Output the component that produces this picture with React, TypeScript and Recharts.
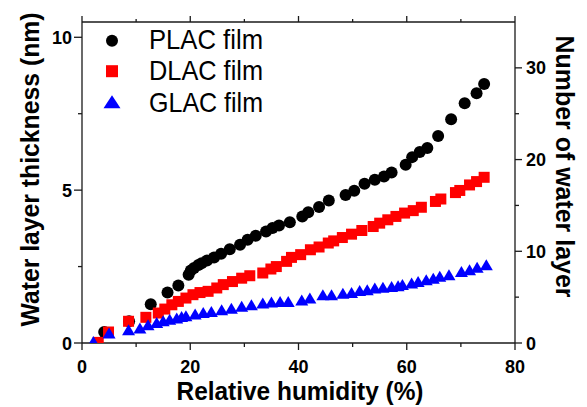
import { ScatterChart, Scatter, XAxis, YAxis, Legend, Label } from 'recharts';

// PLAC film (black circles)
const placRh = [4.1, 8.7, 12.7, 15.8, 17.8, 19.7, 20.1, 20.7, 21.5, 22.1, 23.1, 24.4, 25.7, 27.3, 29.2, 30.6, 32.1, 34.0, 35.2, 36.4, 38.4, 40.7, 41.8, 43.8, 45.6, 48.7, 50.3, 52.2, 54.1, 55.8, 57.2, 59.8, 61.0, 62.4, 63.8, 65.8, 68.2, 70.7, 72.9, 74.3];
const placThickness = [0.36, 0.71, 1.27, 1.65, 1.88, 2.23, 2.37, 2.45, 2.55, 2.61, 2.7, 2.8, 2.92, 3.07, 3.21, 3.38, 3.51, 3.65, 3.76, 3.84, 3.95, 4.14, 4.28, 4.45, 4.66, 4.84, 4.98, 5.21, 5.34, 5.45, 5.58, 5.83, 6.08, 6.25, 6.38, 6.77, 7.32, 7.84, 8.17, 8.47];

// DLAC film (red squares)
const dlacRh = [3.0, 4.9, 8.6, 11.8, 14.1, 15.3, 16.6, 17.8, 19.2, 20.5, 21.8, 23.3, 24.9, 26.1, 27.8, 29.5, 31.0, 33.4, 34.9, 35.9, 37.8, 38.7, 40.4, 42.2, 43.8, 45.5, 46.5, 48.1, 49.8, 51.7, 53.8, 55.0, 56.5, 58.0, 59.6, 61.2, 62.7, 65.3, 66.3, 69.0, 69.8, 71.6, 72.9, 74.3];
const dlacThickness = [0.02, 0.36, 0.71, 0.84, 0.98, 1.11, 1.25, 1.36, 1.47, 1.58, 1.65, 1.69, 1.8, 1.91, 2.01, 2.12, 2.2, 2.29, 2.42, 2.5, 2.67, 2.8, 2.89, 3.05, 3.14, 3.27, 3.34, 3.45, 3.56, 3.68, 3.81, 3.92, 4.03, 4.14, 4.25, 4.33, 4.44, 4.63, 4.71, 4.92, 4.99, 5.17, 5.28, 5.42];

// GLAC film (blue triangles)
const glacRh = [2.1, 5.0, 8.6, 10.7, 12.2, 13.8, 15.0, 16.2, 17.5, 18.4, 19.2, 20.9, 22.4, 23.9, 25.8, 27.6, 29.5, 31.3, 33.4, 35.0, 36.6, 38.1, 40.6, 42.1, 44.5, 46.1, 48.2, 49.8, 51.3, 52.7, 54.1, 55.6, 57.2, 58.4, 59.2, 60.9, 62.1, 63.6, 64.9, 66.1, 67.8, 70.1, 71.6, 73.0, 74.7];
const glacThickness = [0.05, 0.33, 0.43, 0.49, 0.6, 0.67, 0.73, 0.78, 0.82, 0.87, 0.89, 0.95, 1.0, 1.03, 1.09, 1.14, 1.2, 1.25, 1.31, 1.34, 1.36, 1.36, 1.41, 1.47, 1.58, 1.58, 1.63, 1.65, 1.72, 1.74, 1.8, 1.82, 1.85, 1.87, 1.91, 1.96, 2.01, 2.07, 2.12, 2.18, 2.23, 2.34, 2.4, 2.48, 2.56];

const seriesNames = ['PLAC film', 'DLAC film', 'GLAC film'];
const xTicks = [0, 10, 20, 30, 40, 50, 60, 70, 80];
const leftTicks = [0, 2.5, 5, 7.5, 10];
const rightTicks = [0, 5, 10, 15, 20, 25, 30];

const toPoints = (xs: number[], ys: number[]) => xs.map((x, i) => ({ x, y: ys[i] }));

const FONT = '"Liberation Sans", Arial, sans-serif';
const AXIS = '#1a1a1a';

function Circle({ cx = 0, cy = 0, r = 6 }: { cx?: number; cy?: number; r?: number }) {
  return <circle cx={cx} cy={cy} r={r} fill="#000000" />;
}

function Square({ cx = 0, cy = 0, s = 11 }: { cx?: number; cy?: number; s?: number }) {
  return <rect x={cx - s / 2} y={cy - s / 2} width={s} height={s} fill="#ff0000" />;
}

function Triangle({ cx = 0, cy = 0, w = 13, h = 11 }: { cx?: number; cy?: number; w?: number; h?: number }) {
  const pts = `${cx - w / 2},${cy + h / 2} ${cx + w / 2},${cy + h / 2} ${cx},${cy - h / 2}`;
  return <polygon points={pts} fill="#0000ff" />;
}

function BottomTick(props: any) {
  const { x, y, payload } = props;
  const major = payload.value % 20 === 0;
  return (
    <g>
      <line x1={x} y1={y} x2={x} y2={y + (major ? 7 : 4)} stroke={AXIS} strokeWidth={1.3} />
      {major && (
        <text x={x} y={y + 30} textAnchor="middle" fontFamily={FONT} fontWeight="bold" fontSize={18} fill="#000">
          {payload.value}
        </text>
      )}
    </g>
  );
}

function TopTick(props: any) {
  const { x, y, payload } = props;
  const major = payload.value % 20 === 0;
  return <line x1={x} y1={y} x2={x} y2={y - (major ? 6 : 3)} stroke={AXIS} strokeWidth={1.3} />;
}

function LeftTick(props: any) {
  const { x, y, payload } = props;
  const major = payload.value % 5 === 0;
  return (
    <g>
      <line x1={x} y1={y} x2={x - (major ? 8 : 4)} y2={y} stroke={AXIS} strokeWidth={1.3} />
      {major && (
        <text x={x - 10} y={y + 6.5} textAnchor="end" fontFamily={FONT} fontWeight="bold" fontSize={18} fill="#000">
          {payload.value}
        </text>
      )}
    </g>
  );
}

function RightTick(props: any) {
  const { x, y, payload } = props;
  const major = payload.value % 10 === 0;
  return (
    <g>
      <line x1={x} y1={y} x2={x + (major ? 7 : 4)} y2={y} stroke={AXIS} strokeWidth={1.3} />
      {major && (
        <text x={x + 11} y={y + 6.5} textAnchor="start" fontFamily={FONT} fontWeight="bold" fontSize={18} fill="#000">
          {payload.value}
        </text>
      )}
    </g>
  );
}

const legendMarkers: Record<string, (cx: number, cy: number) => JSX.Element> = {
  'PLAC film': (cx, cy) => <Circle cx={cx} cy={cy} r={6} />,
  'DLAC film': (cx, cy) => <Square cx={cx} cy={cy} s={12} />,
  'GLAC film': (cx, cy) => <Triangle cx={cx} cy={cy} w={17} h={13} />,
};

function LegendBox() {
  return (
    <svg width={220} height={100}>
      {seriesNames.map((name, i) => {
        const cy = 18.7 + i * 30.5;
        return (
          <g key={name}>
            {legendMarkers[name](30, cy)}
            <text
              x={67}
              y={26.5 + i * 31.7}
              fontFamily={FONT}
              fontSize={27.5}
              textLength={114}
              lengthAdjust="spacingAndGlyphs"
              fill="#000"
            >
              {name}
            </text>
          </g>
        );
      })}
    </svg>
  );
}

const titleStyle = { fontFamily: FONT, fontWeight: 'bold' as const, fill: '#000' };

export default function App() {
  return (
    <div style={{ position: 'absolute', left: 0, top: 0, background: '#fff' }}>
      <ScatterChart width={587} height={407} margin={{ top: 0, right: 0, bottom: 0, left: 0 }}>
        <XAxis
          xAxisId="top"
          orientation="top"
          type="number"
          dataKey="x"
          domain={[0, 80]}
          ticks={xTicks}
          interval={0}
          height={22}
          allowDataOverflow
          tickSize={0}
          tickMargin={0}
          tickLine={false}
          tick={<TopTick />}
          axisLine={{ stroke: AXIS, strokeWidth: 1.3 }}
        />
        <XAxis
          type="number"
          dataKey="x"
          domain={[0, 80]}
          ticks={xTicks}
          interval={0}
          height={64}
          allowDataOverflow
          tickSize={0}
          tickMargin={0}
          tickLine={false}
          tick={<BottomTick />}
          axisLine={{ stroke: AXIS, strokeWidth: 1.3 }}
        >
          <Label
            content={(p: any) => {
              const vb = p.viewBox || { x: 82, y: 343, width: 433 };
              return (
                <text
                  x={vb.x + vb.width / 2 + 1.5}
                  y={vb.y + 57}
                  textAnchor="middle"
                  fontSize={25.5}
                  textLength={247}
                  lengthAdjust="spacingAndGlyphs"
                  {...titleStyle}
                >
                  Relative humidity (%)
                </text>
              );
            }}
          />
        </XAxis>
        <YAxis
          type="number"
          dataKey="y"
          domain={[0, 10.5]}
          ticks={leftTicks}
          interval={0}
          width={82}
          allowDataOverflow
          tickSize={0}
          tickMargin={0}
          tickLine={false}
          tick={<LeftTick />}
          axisLine={{ stroke: AXIS, strokeWidth: 1.3 }}
        >
          <Label
            content={(p: any) => {
              const vb = p.viewBox || { x: 0, y: 22, width: 82, height: 321 };
              const cx = vb.x + 30;
              const cy = vb.y + vb.height / 2 - 13;
              return (
                <text
                  x={cx}
                  y={cy}
                  textAnchor="middle"
                  dominantBaseline="central"
                  transform={`rotate(-90 ${cx} ${cy})`}
                  fontSize={26}
                  textLength={314}
                  lengthAdjust="spacingAndGlyphs"
                  {...titleStyle}
                >
                  Water layer thickness (nm)
                </text>
              );
            }}
          />
        </YAxis>
        <YAxis
          yAxisId="right"
          orientation="right"
          type="number"
          domain={[0, 35]}
          ticks={rightTicks}
          interval={0}
          width={72}
          allowDataOverflow
          tickSize={0}
          tickMargin={0}
          tickLine={false}
          tick={<RightTick />}
          axisLine={{ stroke: AXIS, strokeWidth: 1.3 }}
        >
          <Label
            content={(p: any) => {
              const vb = p.viewBox || { x: 515, y: 22, width: 72, height: 321 };
              const cx = vb.x + 50;
              const cy = vb.y + vb.height / 2 - 16;
              return (
                <text
                  x={cx}
                  y={cy}
                  textAnchor="middle"
                  dominantBaseline="central"
                  transform={`rotate(90 ${cx} ${cy})`}
                  fontSize={26}
                  textLength={262}
                  lengthAdjust="spacingAndGlyphs"
                  {...titleStyle}
                >
                  Number of water layer
                </text>
              );
            }}
          />
        </YAxis>
        <Scatter
          name={seriesNames[0]}
          data={toPoints(placRh, placThickness)}
          fill="#000000"
          shape={(p: any) => <Circle cx={p.cx} cy={p.cy} />}
          isAnimationActive={false}
        />
        <Scatter
          name={seriesNames[1]}
          data={toPoints(dlacRh, dlacThickness)}
          fill="#ff0000"
          shape={(p: any) => <Square cx={p.cx} cy={p.cy} />}
          isAnimationActive={false}
        />
        <Scatter
          name={seriesNames[2]}
          data={toPoints(glacRh, glacThickness)}
          fill="#0000ff"
          shape={(p: any) => <Triangle cx={p.cx} cy={p.cy} />}
          isAnimationActive={false}
        />
        <Legend
          layout="vertical"
          align="center"
          verticalAlign="middle"
          content={<LegendBox />}
          wrapperStyle={{ left: 82, top: 22, width: 220, height: 100 }}
        />
      </ScatterChart>
    </div>
  );
}
